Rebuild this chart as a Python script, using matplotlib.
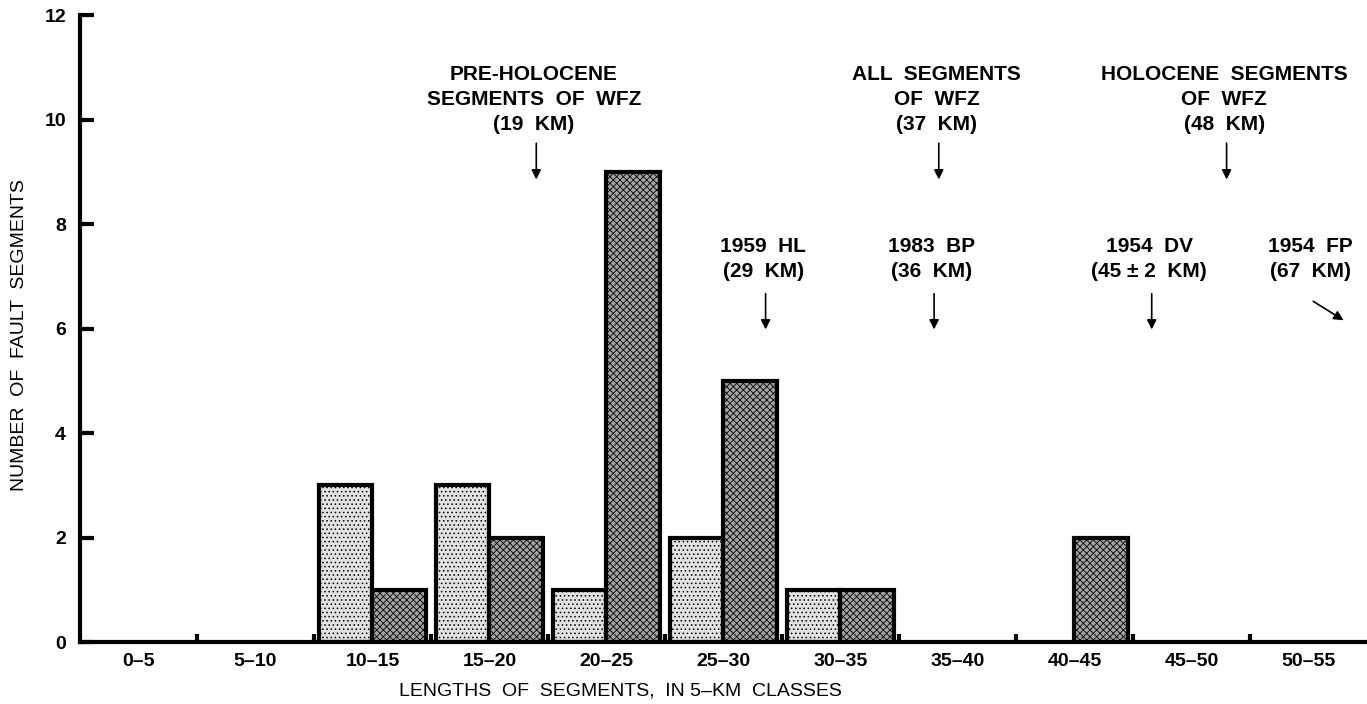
import numpy as np
import matplotlib.pyplot as plt

plt.rcParams['font.family'] = ['Liberation Sans', 'DejaVu Sans']
plt.rcParams['font.weight'] = 'bold'
plt.rcParams['hatch.linewidth'] = 0.6

classes = ["0–5", "5–10", "10–15", "15–20", "20–25", "25–30", "30–35",
           "35–40", "40–45", "45–50", "50–55"]
light_counts = [0, 0, 3, 3, 1, 2, 1, 0, 0, 0, 0]
dark_counts = [0, 0, 1, 2, 9, 5, 1, 0, 2, 0, 0]

# arrow notes and the km position the arrows point at
notes_top = ["PRE-HOLOCENE\nSEGMENTS  OF  WFZ\n(19  KM)",
             "ALL  SEGMENTS\nOF  WFZ\n(37  KM)",
             "HOLOCENE  SEGMENTS\nOF  WFZ\n(48  KM)"]
notes_top_x = [19.5, 36.7, 49.0]
notes_low = ["1959  HL\n(29  KM)", "1983  BP\n(36  KM)", "1954  DV\n(45 ± 2  KM)"]
notes_low_x = [29.3, 36.5, 45.8]

fig = plt.figure(figsize=(13.67, 7.04), dpi=100)
ax = fig.add_axes([0.0585, 0.088, 0.9415, 0.8906])

starts = np.arange(len(classes)) * 5.0
w = 2.3
for i, s in enumerate(starts):
    if light_counts[i] > 0:
        ax.bar(s + 2.5 - w / 2, light_counts[i], width=w, facecolor='#e2e2e2',
               edgecolor='black', linewidth=3, hatch='....', zorder=2)
    if dark_counts[i] > 0:
        ax.bar(s + 2.5 + w / 2, dark_counts[i], width=w, facecolor='#a4a4a4',
               edgecolor='black', linewidth=3, hatch='xxxxx', zorder=2)

ax.set_xlim(0, 55)
ax.set_ylim(0, 12)
for side in ['top', 'right']:
    ax.spines[side].set_visible(False)
for side in ['left', 'bottom']:
    ax.spines[side].set_linewidth(3)

fs = 15
ax.set_yticks(np.arange(0, 13, 2))
ax.tick_params(axis='y', direction='in', length=10, width=3, labelsize=14, pad=10)
ax.set_xticks(starts[1:])
ax.set_xticklabels([])
ax.tick_params(axis='x', which='major', direction='in', length=6, width=3)
ax.set_xticks(starts + 2.5, minor=True)
ax.set_xticklabels(classes, minor=True)
ax.tick_params(axis='x', which='minor', length=0, labelsize=14, pad=8)

ax.set_ylabel("NUMBER  OF  FAULT  SEGMENTS", fontsize=14, fontweight='normal')
ax.yaxis.set_label_coords(-0.04, 0.49)
ax.set_xlabel("LENGTHS  OF  SEGMENTS,  IN 5–KM  CLASSES", fontsize=14, fontweight='normal')
ax.xaxis.set_label_coords(0.42, -0.065)

arrowprops = dict(arrowstyle='-|>', color='black', lw=1.2, mutation_scale=14)
for txt, x in zip(notes_top, notes_top_x):
    ax.text(x - 0.1, 11.05, txt, ha='center', va='top', fontsize=fs, linespacing=1.4)
    ax.annotate("", xy=(x, 8.8), xytext=(x, 9.6), arrowprops=arrowprops)
for txt, x in zip(notes_low, notes_low_x):
    ax.text(x - 0.1, 7.75, txt, ha='center', va='top', fontsize=fs, linespacing=1.4)
    ax.annotate("", xy=(x, 5.93), xytext=(x, 6.72), arrowprops=arrowprops)
ax.text(52.6, 7.75, "1954  FP\n(67  KM)", ha='center', va='top', fontsize=fs, linespacing=1.4)
ax.annotate("", xy=(54.1, 6.13), xytext=(52.6, 6.55), arrowprops=arrowprops)

fig.savefig("out.png", dpi=100)
